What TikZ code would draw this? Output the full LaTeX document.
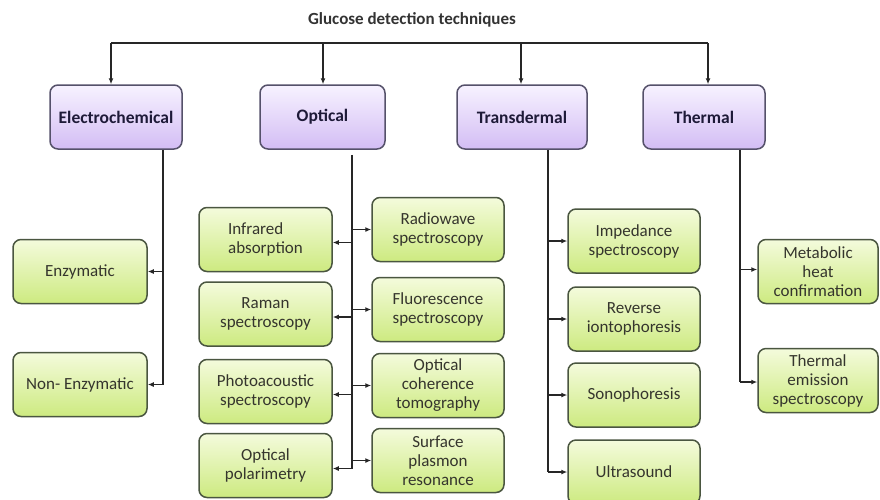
\documentclass[tikz,border=0pt]{standalone}
\usepackage{fontspec}
\setmainfont{Carlito}
\usetikzlibrary{arrows.meta}
\definecolor{gtop}{HTML}{F4FBDC}
\definecolor{gbot}{HTML}{CDEA80}
\definecolor{gline}{HTML}{4A5640}
\definecolor{ptop}{HTML}{F7F2FF}
\definecolor{pbot}{HTML}{D3BDF4}
\definecolor{pline}{HTML}{55516A}
\definecolor{ptext}{HTML}{1E1A38}
\definecolor{gtext}{HTML}{35352D}
\definecolor{conn}{HTML}{262626}
\begin{document}
\begin{tikzpicture}[x=1pt,y=-1pt,
  catbox/.style={draw=pline, line width=1.5pt, rounded corners=8pt, top color=ptop, bottom color=pbot,
    minimum height=64pt, inner sep=0pt, font=\fontsize{17.5}{20}\selectfont\bfseries, text=ptext, align=center},
  leafbox/.style={draw=gline, line width=1.5pt, rounded corners=8pt, top color=gtop, bottom color=gbot,
    minimum height=64pt, inner sep=0pt, font=\fontsize{17}{19}\selectfont, text=gtext, align=center},
  link/.style={draw=conn, line width=1.7pt},
  arr/.style={link, -{Latex[length=6pt,width=5pt]}}]
\useasboundingbox (0,0) rectangle (880,499);
\fill[white] (0,0) rectangle (880,499);

% title
\node[font=\fontsize{17}{20}\selectfont\bfseries, text=black!80] (title) at (412,20) {Glucose detection techniques};

% categories
\node[catbox, minimum width=132pt] (elec)  at (116,117) {Electrochemical};
\node[catbox, minimum width=125pt] (opt)   at (322.5,117) {Optical};
\node[catbox, minimum width=130pt] (trans) at (522,117) {Transdermal};
\node[catbox, minimum width=122pt] (therm) at (704,117) {Thermal};

% electrochemical leaves
\node[leafbox, minimum width=134pt] (enz)  at (80,271.5) {Enzymatic};
\node[leafbox, minimum width=134pt] (nenz) at (80,384.5) {Non- Enzymatic};

% optical leaves, left column
\node[leafbox, minimum width=133pt, align=left] (ir)  at (265.5,239.5) {Infrared\\absorption};
\node[leafbox, minimum width=133pt] (ram) at (265.5,314) {Raman\\spectroscopy};
\node[leafbox, minimum width=133pt] (pa)  at (265.5,391.5) {Photoacoustic\\spectroscopy};
\node[leafbox, minimum width=133pt] (pol) at (265.5,465.5) {Optical\\polarimetry};
% optical leaves, right column
\node[leafbox, minimum width=132pt] (rw)  at (438,229.5) {Radiowave\\spectroscopy};
\node[leafbox, minimum width=132pt] (fl)  at (438,309.5) {Fluorescence\\spectroscopy};
\node[leafbox, minimum width=132pt] (oct) at (438,385.5) {Optical\\coherence\\tomography};
\node[leafbox, minimum width=132pt] (spr) at (438,460.5) {Surface\\plasmon\\resonance};

% transdermal leaves
\node[leafbox, minimum width=132pt] (imp) at (634,241) {Impedance\\spectroscopy};
\node[leafbox, minimum width=132pt] (rev) at (634,319) {Reverse\\iontophoresis};
\node[leafbox, minimum width=132pt] (son) at (634,395) {Sonophoresis};
\node[leafbox, minimum width=132pt] (us)  at (634,472) {Ultrasound};

% thermal leaves
\node[leafbox, minimum width=120pt] (met) at (818,271.5) {Metabolic\\heat\\confirmation};
\node[leafbox, minimum width=120pt] (te)  at (818,380.5) {Thermal\\emission\\spectroscopy};

% top bus
\coordinate (b1) at (111,43);
\coordinate (b2) at (323,43);
\coordinate (b3) at (521,43);
\coordinate (b4) at (708,43);
\draw[link] (b1) -- (b4);
\draw[arr] (b1) -- (b1 |- elec.north);
\draw[arr] (b2) -- (b2 |- opt.north);
\draw[arr] (b3) -- (b3 |- trans.north);
\draw[arr] (b4) -- (b4 |- therm.north);

% electrochemical trunk
\coordinate (ex) at (163,0);
\draw[link] (elec.south -| ex) -- (nenz.east -| ex);
\draw[arr] (enz.east -| ex) -- (enz.east);
\draw[arr] (nenz.east -| ex) -- (nenz.east);

% optical trunk
\coordinate (ox) at (352,0);
\draw[link] ([yshift=-5pt]opt.south -| ox) -- ([yshift=-3pt]pol.east -| ox);
\draw[arr] ([yshift=-3pt]ir.east -| ox) -- ([yshift=-3pt]ir.east);
\draw[arr] ([yshift=-3pt]ram.east -| ox) -- ([yshift=-3pt]ram.east);
\draw[arr] ([yshift=-3pt]pa.east -| ox) -- ([yshift=-3pt]pa.east);
\draw[arr] ([yshift=-3pt]pol.east -| ox) -- ([yshift=-3pt]pol.east);
\draw[arr] (rw.west -| ox) -- (rw.west);
\draw[arr] (fl.west -| ox) -- (fl.west);
\draw[arr] (oct.west -| ox) -- (oct.west);
\draw[arr] (spr.west -| ox) -- (spr.west);

% transdermal trunk
\coordinate (tx) at (548,0);
\draw[link] (trans.south -| tx) -- (us.west -| tx);
\draw[arr] (imp.west -| tx) -- (imp.west);
\draw[arr] (rev.west -| tx) -- (rev.west);
\draw[arr] (son.west -| tx) -- (son.west);
\draw[arr] (us.west -| tx) -- (us.west);

% thermal trunk
\coordinate (hx) at (740,0);
\draw[link] (therm.south -| hx) -- ([yshift=-1.5pt]te.west -| hx);
\draw[arr] ([yshift=2pt]met.west -| hx) -- ([yshift=2pt]met.west);
\draw[arr] ([yshift=-1.5pt]te.west -| hx) -- ([yshift=-1.5pt]te.west);
\end{tikzpicture}
\end{document}
